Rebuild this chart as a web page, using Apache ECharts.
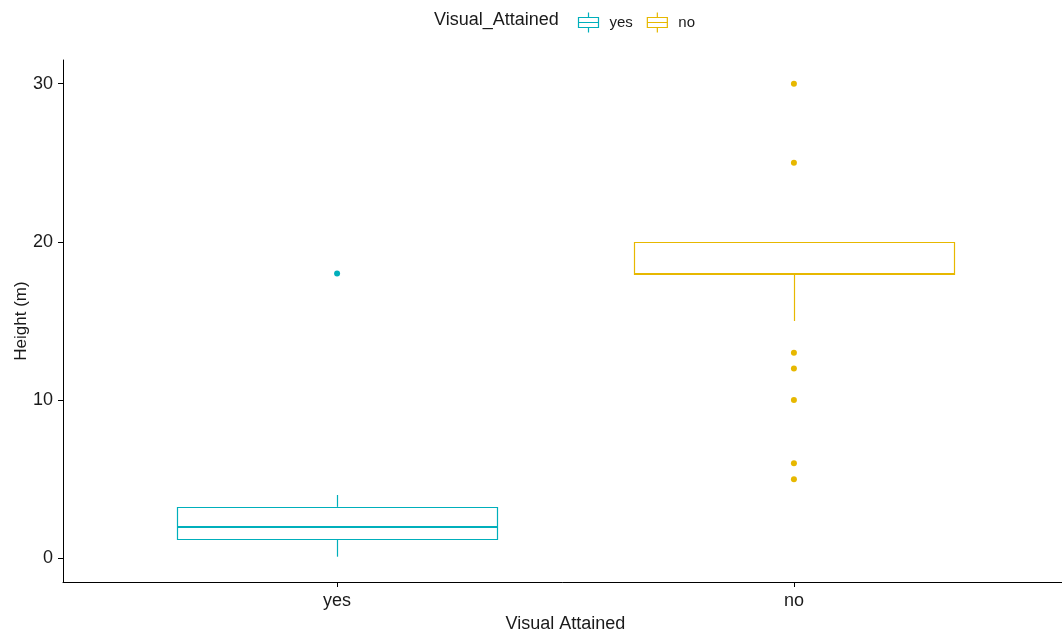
<!DOCTYPE html>
<html>
<head>
<meta charset="utf-8">
<script src="https://cdn.jsdelivr.net/npm/echarts@6/dist/echarts.min.js"></script>
<style>html,body{margin:0;padding:0;background:#fff}#c{width:1062px;height:634px}</style>
</head>
<body>
<div id="c"></div>
<script>
var categories = ['yes', 'no'];
var colors = ['#00AFBB', '#E7B800'];
// [whiskerLow, Q1, median, Q3, whiskerHigh]
var boxYes = [0.1, 1.25, 2, 3.25, 4];
var boxNo = [15, 18, 18, 20, 20];
var outliersYes = [18];
var outliersNo = [30, 25, 13, 12, 10, 6, 5];
var yTicks = [0, 10, 20, 30];

var boxes = [boxYes, boxNo];
var outliers = [outliersYes, outliersNo];
var FONT = 'Liberation Sans, Arial, sans-serif';
var TXT = '#1a1a1a';
var HALF = 0.35;

function renderBox(params, api) {
  var x = api.value(0);
  var lo = api.coord([x, api.value(1)]);
  var q1 = api.coord([x - HALF, api.value(2)]);
  var med = api.coord([x, api.value(3)]);
  var q3 = api.coord([x + HALF, api.value(4)]);
  var hi = api.coord([x, api.value(5)]);
  var color = api.visual('color');
  var left = Math.round(q1[0]) + 0.5, right = Math.round(q3[0]) + 0.5;
  var cx = Math.round(lo[0]) + 0.5;
  var st = {stroke: color, lineWidth: 1.2, fill: null};
  return {
    type: 'group',
    children: [
      {type: 'line', shape: {x1: cx, y1: lo[1], x2: cx, y2: q1[1]}, style: st},
      {type: 'line', shape: {x1: cx, y1: q3[1], x2: cx, y2: hi[1]}, style: st},
      {type: 'rect', shape: {x: left, y: Math.round(q3[1]) + 0.5, width: right - left, height: Math.round(q1[1]) - Math.round(q3[1])}, style: {stroke: color, lineWidth: 1.2, fill: '#fff'}},
      {type: 'line', shape: {x1: left, y1: Math.round(med[1]), x2: right, y2: Math.round(med[1])}, style: {stroke: color, lineWidth: 2}, z2: 10}
    ]
  };
}

var series = [];
categories.forEach(function (name, i) {
  series.push({
    name: name,
    type: 'custom',
    renderItem: renderBox,
    itemStyle: {color: colors[i]},
    encode: {x: 0, y: [1, 2, 3, 4, 5]},
    data: [[i + 1].concat(boxes[i])],
    z: 2
  });
  series.push({
    name: name,
    type: 'scatter',
    symbolSize: 6,
    itemStyle: {color: colors[i], opacity: 1},
    data: outliers[i].map(function (v) { return [i + 1, v]; }),
    z: 3
  });
});

var boxIcon = 'path://M1,5 H21 V15 H1 Z M1,10 H21 M11,0 V5 M11,15 V20';

var option = {
  animation: false,
  backgroundColor: '#fff',
  textStyle: {fontFamily: FONT},
  title: {
    text: 'Visual_Attained',
    left: 434, top: 11, padding: 0,
    textStyle: {fontFamily: FONT, fontSize: 18, fontWeight: 'normal', color: TXT}
  },
  legend: {
    left: 576, top: 10, padding: 0,
    itemWidth: 22, itemHeight: 20,
    itemGap: 12,
    textStyle: {fontFamily: FONT, fontSize: 15, color: TXT, padding: [0, 0, 0, 5]},
    data: categories.map(function (c, i) {
      return {name: c, icon: boxIcon, itemStyle: {color: 'none', borderColor: colors[i], borderWidth: 1.2}};
    })
  },
  grid: {left: 63, right: -6, top: 60, bottom: 52, containLabel: false, outerBoundsMode: 'none'},
  xAxis: {
    type: 'value', min: 0.4, max: 2.6,
    name: 'Visual Attained', nameLocation: 'middle', nameGap: 33,
    nameTextStyle: {fontFamily: FONT, fontSize: 18, color: TXT},
    splitLine: {show: false},
    axisLine: {show: true, onZero: false, lineStyle: {color: '#000', width: 1}},
    axisTick: {show: true, customValues: [1, 2], length: 5, lineStyle: {color: '#000'}},
    axisLabel: {customValues: [1, 2], formatter: function (v) { return categories[Math.round(v) - 1]; }, fontFamily: FONT, fontSize: 18, color: TXT, margin: 10}
  },
  yAxis: {
    type: 'value', min: -1.5, max: 31.5,
    name: 'Height (m)', nameLocation: 'middle', nameGap: 33, nameMoveOverlap: false,
    nameTextStyle: {fontFamily: FONT, fontSize: 17, color: TXT},
    splitLine: {show: false},
    axisLine: {show: true, onZero: false, lineStyle: {color: '#000', width: 1}},
    axisTick: {show: true, customValues: yTicks, length: 5, lineStyle: {color: '#000'}},
    axisLabel: {customValues: yTicks, fontFamily: FONT, fontSize: 18, color: TXT, margin: 10}
  },
  series: series
};

var chart = echarts.init(document.getElementById('c'), null, {renderer: 'canvas'});
chart.setOption(option);
</script>
</body>
</html>
